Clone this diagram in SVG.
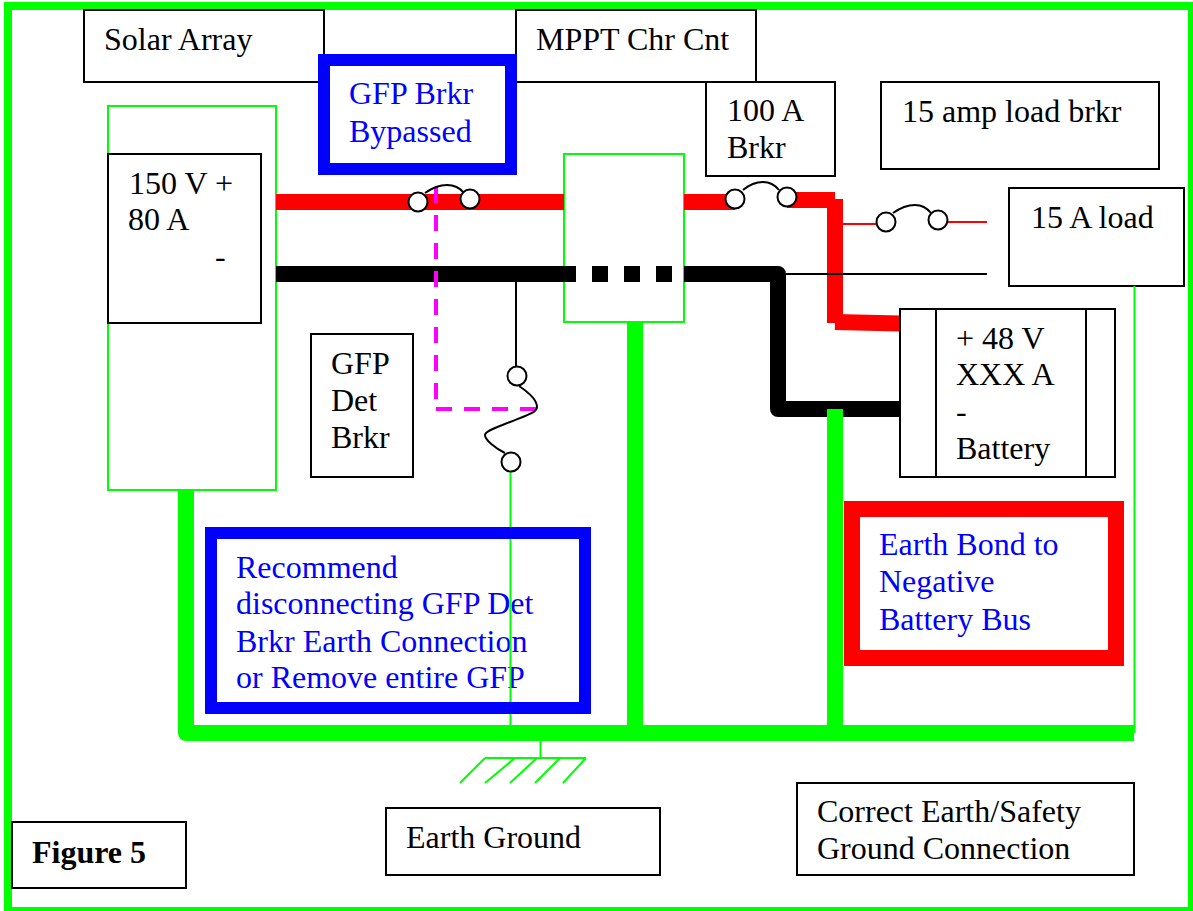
<svg xmlns="http://www.w3.org/2000/svg" width="1193" height="911" viewBox="0 0 1193 911">
<style>
text{font-family:"Liberation Serif","Times New Roman",serif;font-size:32px;fill:#000}
.b{fill:#0000ff}
.box{fill:#fff;stroke:#000;stroke-width:2}
.gbox{fill:#fff;stroke:#00ff00;stroke-width:2}
.f{fill:none;stroke:#000;stroke-width:2}
.c{fill:#fff;stroke:#000;stroke-width:2}
.w{fill:none;stroke-linejoin:round}
</style>
<rect width="1193" height="911" fill="#fff"/>
<rect id="frame" x="8" y="6" width="1184" height="905" fill="none" stroke="#00ff00" stroke-width="8"/>
<g id="solar-array-label"><rect class="box" x="84" y="10" width="240" height="72"/><text x="104" y="50">Solar Array</text></g>
<g id="mppt-label"><rect class="box" x="516" y="10" width="240" height="72"/><text x="536" y="50">MPPT Chr Cnt</text></g>
<g id="solar-array"><rect class="gbox" x="108" y="106" width="168" height="384"/></g>
<g id="array-source"><rect class="box" x="108" y="154" width="153" height="169"/><text x="129" y="193.500">150 V +</text><text x="128" y="230">80 A</text><text x="215" y="267">-</text></g>
<g id="mppt-controller"><rect class="gbox" x="564" y="154" width="120" height="168"/></g>
<g id="brkr-100a"><rect class="box" x="706" y="82" width="129" height="94"/><text x="727" y="121">100 A</text><text x="727" y="158">Brkr</text></g>
<g id="load-brkr-label"><rect class="box" x="881" y="82" width="278" height="87"/><text x="902" y="122">15 amp load brkr</text></g>
<g id="load"><rect class="box" x="1009" y="188" width="175" height="98"/><text x="1031" y="228">15 A load</text></g>
<g id="gfp-det"><rect class="box" x="311" y="334" width="102" height="143"/><text x="331" y="374">GFP</text><text x="331" y="410.500">Det</text><text x="331" y="447.500">Brkr</text></g>
<g id="recommend-note"><rect x="211" y="533" width="374" height="175" fill="none" stroke="#0000ff" stroke-width="12"/><text class="b" x="236" y="577.500">Recommend</text><text class="b" x="236" y="614">disconnecting GFP Det</text><text class="b" x="236" y="651.500">Brkr Earth Connection</text><text class="b" x="236" y="688">or Remove entire GFP</text></g>
<g id="connectors">
<path class="w" d="M186 490V733H1134" stroke="#00ff00" stroke-width="16"/>
<path d="M635 322V733" stroke="#00ff00" stroke-width="16" fill="none"/>
<path d="M1134.500 286V733M510.500 470V527M510.500 539V702M510.500 714V733M540.500 741V758" stroke="#00ff00" stroke-width="2" fill="none"/>
<path d="M485 758H586M485 758L460 783M515 758L485 783M537 758L510 783M560 758L535 783M586 758L563 783" stroke="#00ff00" stroke-width="2" fill="none"/>
<path d="M276 202H564M684 202H735M787 200H835" stroke="#ff0000" stroke-width="16" fill="none"/>
<path d="M835 199V323" stroke="#ff0000" stroke-width="16" fill="none"/>
<path d="M835 322L900 323.500" stroke="#ff0000" stroke-width="16" fill="none"/>
<path d="M843 224H886M938 222H987" stroke="#ff0000" stroke-width="2" fill="none"/>
<path d="M276 274H576M592 274H608M624 274H640M656 274H672M684 274H778V409H900" class="w" stroke="#000" stroke-width="16"/>
<path d="M835 409V733" stroke="#00ff00" stroke-width="16" fill="none"/>
<path d="M778 274H987M516 282V366" stroke="#000" stroke-width="2" fill="none"/>
<path d="M436 187V399" fill="none" stroke="#ff00ff" stroke-width="4" stroke-dasharray="16 12"/>
<path d="M436 409H536" fill="none" stroke="#ff00ff" stroke-width="4" stroke-dasharray="16 12"/>
<path class="f" d="M425 193C432 188 440 185 447 185C454 185 460 188 464 193"/>
<circle class="c" cx="418" cy="202" r="9.500"/><circle class="c" cx="470" cy="199" r="9.500"/>
<path class="f" d="M743 190C749 185 756 182 763 182C770 182 775 185 779 190"/>
<circle class="c" cx="735" cy="199" r="9.500"/><circle class="c" cx="787" cy="197" r="9.500"/>
<path class="f" d="M893 213C900 208 907 205 915 205C922 205 927 208 931 213"/>
<circle class="c" cx="886" cy="222" r="9.500"/><circle class="c" cx="938" cy="220" r="9.500"/>
<path class="f" d="M519 386C528 392 537 400 537 407C537 412 530 414 510 422C495 428 485 431 485 435C485 440 495 448 505 453"/>
<circle class="c" cx="517" cy="376" r="9.500"/><circle class="c" cx="511" cy="462" r="9.500"/>
</g>
<g id="battery"><rect class="box" x="900" y="309" width="215" height="168"/><rect class="box" x="936" y="309" width="150" height="168"/><text x="956" y="348.500">+ 48 V</text><text x="956" y="385">XXX A</text><text x="956" y="422">-</text><text x="956" y="459">Battery</text></g>
<g id="gfp-bypass-note"><rect x="324" y="60" width="187" height="109" fill="#fff" stroke="#0000ff" stroke-width="12"/><text class="b" x="349" y="103.500">GFP Brkr</text><text class="b" x="349" y="142">Bypassed</text></g>
<g id="earth-bond-note"><rect x="852" y="509" width="264" height="149" fill="#fff" stroke="#ff0000" stroke-width="16"/><text class="b" x="879" y="554.500">Earth Bond to</text><text class="b" x="879" y="591.500">Negative</text><text class="b" x="879" y="629.500">Battery Bus</text></g>
<g id="earth-ground"><rect class="box" x="386" y="808" width="274" height="67"/><text x="406" y="848">Earth Ground</text></g>
<g id="safety-label"><rect class="box" x="797" y="783" width="337" height="92"/><text x="817" y="822">Correct Earth/Safety</text><text x="817" y="858.500">Ground Connection</text></g>
<g id="figure-label"><rect class="box" x="12" y="822" width="174" height="66"/><text x="32" y="863" font-weight="700">Figure 5</text></g>
</svg>
